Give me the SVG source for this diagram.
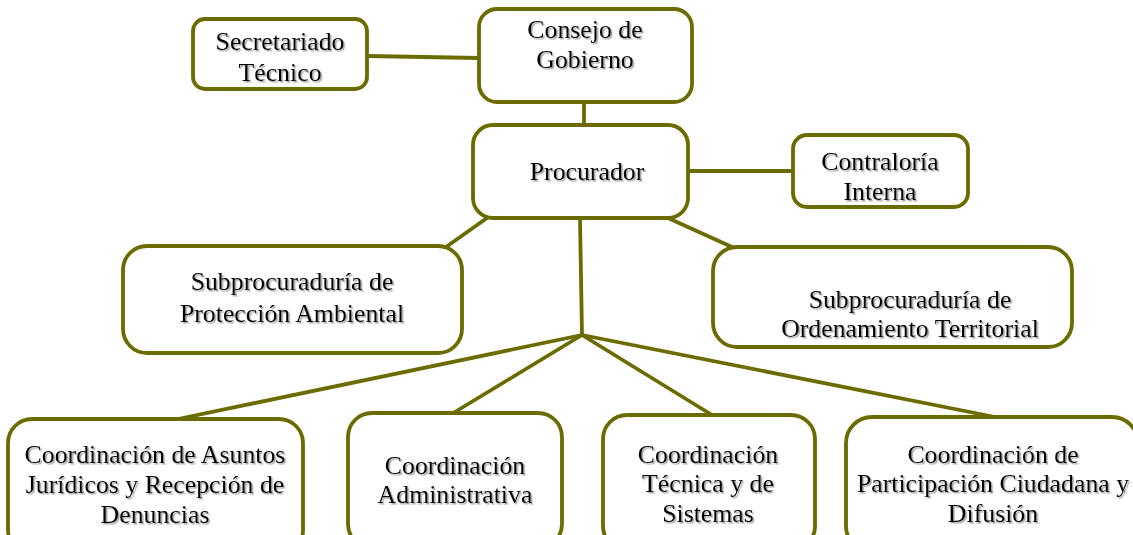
<svg xmlns="http://www.w3.org/2000/svg" width="1133" height="535" viewBox="0 0 1133 535">
  <defs>
    <filter id="ts" x="-5%" y="-20%" width="110%" height="150%">
      <feDropShadow dx="1.5" dy="1.5" stdDeviation="0.6" flood-color="#8a8a8a" flood-opacity="0.8"/>
    </filter>
  </defs>
  <style>
    .box { fill: #ffffff; stroke: #6b6b00; stroke-width: 3.8; }
    .conn line { stroke: #6b6b00; stroke-width: 3.8; stroke-linecap: round; }
    text { font-family: "Liberation Serif", "Times New Roman", serif; font-size: 25.8px; fill: #000000; text-anchor: middle; filter: url(#ts); }
  </style>
  <rect width="1133" height="535" fill="#ffffff"/>
  <g id="connectors" class="conn">
    <line x1="367" y1="56" x2="479" y2="58"/>
    <line x1="584" y1="103" x2="584" y2="125"/>
    <line x1="688" y1="171" x2="793" y2="171"/>
    <line x1="487" y1="218" x2="446" y2="247"/>
    <line x1="668" y1="218" x2="732" y2="247"/>
    <line x1="580" y1="218" x2="582" y2="335"/>
    <line x1="582" y1="335" x2="178" y2="419"/>
    <line x1="582" y1="335" x2="450" y2="415"/>
    <line x1="582" y1="335" x2="712" y2="415"/>
    <line x1="582" y1="335" x2="995" y2="417"/>
  </g>
  <g id="secretariado">
    <rect class="box" x="193" y="19" width="174" height="70" rx="12"/>
    <text x="280" y="50">Secretariado</text>
    <text x="280" y="81">Técnico</text>
  </g>
  <g id="consejo">
    <rect class="box" x="479" y="9" width="213" height="93" rx="18"/>
    <text x="585" y="38">Consejo de</text>
    <text x="585" y="68">Gobierno</text>
  </g>
  <g id="procurador">
    <rect class="box" x="473" y="125" width="215" height="93" rx="20"/>
    <text x="587" y="180">Procurador</text>
  </g>
  <g id="contraloria">
    <rect class="box" x="793" y="135" width="175" height="72" rx="14"/>
    <text x="880" y="170">Contraloría</text>
    <text x="880" y="200">Interna</text>
  </g>
  <g id="sub-proteccion">
    <rect class="box" x="123" y="246" width="339" height="107" rx="24"/>
    <text x="292" y="290">Subprocuraduría de</text>
    <text x="292" y="322">Protección Ambiental</text>
  </g>
  <g id="sub-ordenamiento">
    <rect class="box" x="713" y="247" width="359" height="100" rx="24"/>
    <text x="910" y="308">Subprocuraduría de</text>
    <text x="910" y="337">Ordenamiento Territorial</text>
  </g>
  <g id="coord-juridicos">
    <rect class="box" x="8" y="419" width="295" height="135" rx="24"/>
    <text x="155" y="463">Coordinación de Asuntos</text>
    <text x="155" y="493">Jurídicos y Recepción de</text>
    <text x="155" y="523">Denuncias</text>
  </g>
  <g id="coord-administrativa">
    <rect class="box" x="348" y="413" width="214" height="135" rx="24"/>
    <text x="455" y="474">Coordinación</text>
    <text x="455" y="503">Administrativa</text>
  </g>
  <g id="coord-tecnica">
    <rect class="box" x="603" y="415" width="212" height="135" rx="24"/>
    <text x="708" y="463">Coordinación</text>
    <text x="708" y="492">Técnica y de</text>
    <text x="708" y="522">Sistemas</text>
  </g>
  <g id="coord-participacion">
    <rect class="box" x="846" y="417" width="292" height="135" rx="26"/>
    <text x="993" y="463">Coordinación de</text>
    <text x="993" y="492">Participación Ciudadana y</text>
    <text x="993" y="522">Difusión</text>
  </g>
</svg>
